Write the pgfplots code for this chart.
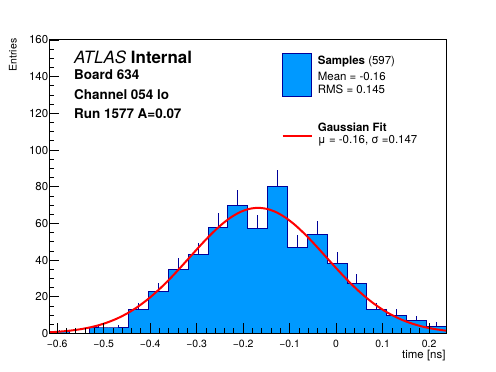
\documentclass[border=0pt]{standalone}
\usepackage{pgfplots}
\pgfplotsset{compat=1.18}
\usepackage{fontspec}
\setmainfont{TeX Gyre Heros}
\definecolor{rootblue}{RGB}{0,153,255}
\definecolor{rootnavy}{RGB}{0,0,153}
\begin{document}
\begin{tikzpicture}
\useasboundingbox (-49.3bp,-38.5bp) rectangle (446.7bp,333.5bp);
\begin{axis}[
  at={(0,0)}, anchor=south west,
  width=397bp, height=293.5bp, scale only axis,
  xmin=-0.617, xmax=0.237, ymin=0, ymax=160,
  xtick={-0.6,-0.5,-0.4,-0.3,-0.2,-0.1,0,0.1,0.2},
  xticklabels={−0.6,−0.5,−0.4,−0.3,−0.2,−0.1,0,0.1,0.2},
  ytick={0,20,40,60,80,100,120,140,160},
  minor x tick num=4, minor y tick num=3,
  tick align=inside, tick pos=left,
  major tick length=10bp, minor tick length=5bp,
  every tick/.style={black, line width=0.8bp},
  axis line style={line width=1bp},
  xticklabel style={font=\fontsize{10.5}{12}\selectfont, yshift=-2.8bp},
  yticklabel style={font=\fontsize{11.5}{13}\selectfont, xshift=2.4bp},
  /pgf/number format/assume math mode=true,
  axis on top,
  clip=true,
]
\addplot[const plot mark left, fill=rootblue, draw=rootnavy, line width=1bp] coordinates {
(-0.6170,1) (-0.5743,0) (-0.5316,3) (-0.4889,3) (-0.4462,13) (-0.4035,23)
(-0.3608,35) (-0.3181,43) (-0.2754,58) (-0.2327,70) (-0.1900,57) (-0.1473,80)
(-0.1046,47) (-0.0619,54) (-0.0192,38) (0.0235,27) (0.0662,13) (0.1089,10)
(0.1516,7) (0.1943,4) (0.2370,4)
} \closedcycle;
\addplot[draw=none, no markers,
  error bars/.cd, y dir=plus, y explicit,
  error bar style={draw=rootnavy, solid, line width=1bp}, error mark=none] coordinates {
(-0.59565,1) +- (0,1)
(-0.51025,3) +- (0,1.73)
(-0.46755,3) +- (0,1.73)
(-0.42485,13) +- (0,3.61)
(-0.38215,23) +- (0,4.80)
(-0.33945,35) +- (0,5.92)
(-0.29675,43) +- (0,6.56)
(-0.25405,58) +- (0,7.62)
(-0.21135,70) +- (0,8.37)
(-0.16865,57) +- (0,7.55)
(-0.12595,80) +- (0,8.94)
(-0.08325,47) +- (0,6.86)
(-0.04055,54) +- (0,7.35)
(0.00215,38) +- (0,6.16)
(0.04485,27) +- (0,5.20)
(0.08755,13) +- (0,3.61)
(0.13025,10) +- (0,3.16)
(0.17295,7) +- (0,2.65)
(0.21565,4) +- (0,2.00)
};
\addplot[red, line width=2bp, smooth] coordinates {
(-0.617,0.65) (-0.608,0.78) (-0.588,1.16) (-0.568,1.69) (-0.548,2.42) (-0.528,3.41)
(-0.508,4.72) (-0.488,6.41) (-0.468,8.54) (-0.448,11.16) (-0.428,14.34) (-0.408,18.07)
(-0.388,22.35) (-0.368,27.15) (-0.348,32.37) (-0.328,37.88) (-0.308,43.52) (-0.288,49.09)
(-0.268,54.35) (-0.248,59.07) (-0.228,63.02) (-0.208,66.01) (-0.188,67.87) (-0.168,68.5)
(-0.148,67.87) (-0.128,66.01) (-0.108,63.02) (-0.088,59.07) (-0.068,54.35) (-0.048,49.09)
(-0.028,43.52) (-0.008,37.88) (0.012,32.37) (0.032,27.15) (0.052,22.35) (0.072,18.07)
(0.092,14.34) (0.112,11.16) (0.132,8.54) (0.152,6.41) (0.172,4.72) (0.192,3.41)
(0.212,2.42) (0.232,1.69) (0.237,1.54)
};
\end{axis}
\node[anchor=base east, inner sep=0pt, font=\fontsize{11.5}{13}\selectfont] at (396.4bp,-24.5bp) {time [ns]};
\node[anchor=base east, rotate=90, inner sep=0pt, font=\fontsize{10.5}{12}\selectfont] at (-32.6bp,295bp) {Entries};
\node[anchor=base west, inner sep=0pt, font=\fontsize{17}{20}\selectfont] at (24.7bp,270.2bp) {\textit{ATLAS} \textbf{Internal}};
\node[anchor=base west, inner sep=0pt, font=\fontsize{13.5}{16}\selectfont\bfseries] at (24.7bp,253.5bp) {Board 634};
\node[anchor=base west, inner sep=0pt, font=\fontsize{13.5}{16}\selectfont\bfseries] at (24.7bp,234.2bp) {Channel 054 lo};
\node[anchor=base west, inner sep=0pt, font=\fontsize{13.5}{16}\selectfont\bfseries] at (24.7bp,215.2bp) {Run 1577 A=0.07};
\fill[rootblue, draw=rootnavy, line width=1bp] (233.4bp,236.8bp) rectangle (262.4bp,280.2bp);
\node[anchor=base west, inner sep=0pt, font=\fontsize{11.5}{13}\selectfont] at (268.4bp,268.5bp) {\textbf{Samples} (597)};
\node[anchor=base west, inner sep=0pt, font=\fontsize{11.5}{13}\selectfont] at (268.4bp,252.8bp) {Mean = -0.16};
\node[anchor=base west, inner sep=0pt, font=\fontsize{11.5}{13}\selectfont] at (268.4bp,240.2bp) {RMS = 0.145};
\draw[red, line width=2bp] (233.4bp,197.5bp) -- (262.4bp,197.5bp);
\node[anchor=base west, inner sep=0pt, font=\fontsize{11.5}{13}\selectfont\bfseries] at (268.4bp,201.8bp) {Gaussian Fit};
\node[anchor=base west, inner sep=0pt, font=\fontsize{11.5}{13}\selectfont] at (268.4bp,190.2bp) {μ = -0.16, σ =0.147};
\end{tikzpicture}
\end{document}
